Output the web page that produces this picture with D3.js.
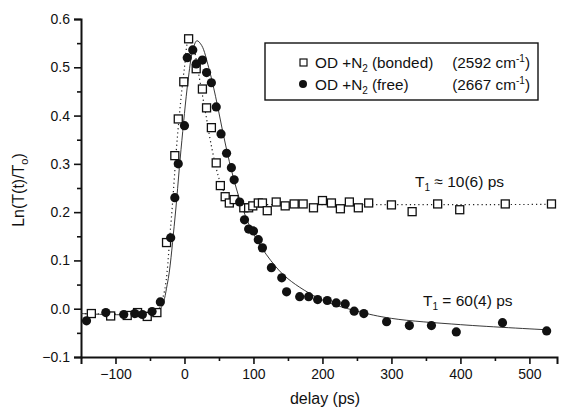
<!DOCTYPE html>
<html>
<head>
<meta charset="utf-8">
<script src="https://cdn.jsdelivr.net/npm/d3@7"></script>
<style>
  body { margin: 0; background: #fff; }
  text { font-family: "Liberation Sans", Arial, sans-serif; fill: #111; }
</style>
</head>
<body>
<svg id="chart" width="564" height="413"></svg>
<script>
// bonded OD (open squares)
const bondedDelay = [-135, -107, -83, -68, -54, -40, -26, -14, -9, -1, 6, 17, 26, 32, 39, 46, 52, 59, 65, 72,
  86, 93, 99, 107, 113, 120, 133, 146, 159, 172, 187, 200, 213, 226, 239, 252, 267, 300, 330, 367, 399, 465, 532];
const bondedVal = [-0.010, -0.015, -0.014, -0.008, -0.016, -0.008, 0.137, 0.317, 0.393, 0.470, 0.559, 0.497, 0.455, 0.416, 0.375, 0.302, 0.255, 0.232, 0.219, 0.226,
  0.209, 0.209, 0.213, 0.219, 0.219, 0.203, 0.221, 0.213, 0.217, 0.217, 0.209, 0.224, 0.219, 0.207, 0.221, 0.209, 0.219, 0.215, 0.201, 0.217, 0.205, 0.217, 0.217];

// free OD (filled circles)
const freeDelay = [-142, -114, -88, -72, -61, -47, -35, -20, -14, -9, 0, 4, 12, 17, 26, 32, 39, 46, 53, 61, 68, 72, 80, 87, 93,
  100, 107, 113, 126, 141, 148, 167, 180, 193, 207, 220, 233, 246, 260, 293, 326, 358, 394, 461, 525];
const freeVal = [-0.025, -0.008, -0.012, -0.010, -0.012, -0.006, 0.014, 0.147, 0.230, 0.300, 0.379, 0.520, 0.536, 0.507, 0.515, 0.489, 0.468, 0.418, 0.362, 0.322, 0.292, 0.267, 0.221, 0.184, 0.165,
  0.161, 0.143, 0.126, 0.085, 0.064, 0.035, 0.025, 0.025, 0.019, 0.017, 0.012, 0.010, -0.005, -0.010, -0.027, -0.035, -0.035, -0.048, -0.029, -0.046];

// fit curves
const bondedFitDelay = [-150, -60, -40, -30, -20, -10, 0, 6, 12, 20, 30, 40, 50, 60, 70, 80, 100, 540];
const bondedFitVal = [-0.010, -0.010, -0.005, 0.03, 0.17, 0.36, 0.50, 0.555, 0.545, 0.49, 0.41, 0.33, 0.27, 0.235, 0.222, 0.217, 0.216, 0.216];
const freeFitDelay = [-150, -50, -35, -25, -15, -5, 5, 12, 18, 25, 35, 45, 55, 65, 75, 85, 100, 125, 150, 200, 250, 300, 400, 530];
const freeFitVal = [-0.010, -0.010, 0.000, 0.05, 0.17, 0.33, 0.47, 0.535, 0.555, 0.545, 0.50, 0.44, 0.37, 0.305, 0.25, 0.205, 0.155, 0.10, 0.062, 0.018, -0.005, -0.020, -0.033, -0.044];

const xTicks = [-100, 0, 100, 200, 300, 400, 500];
const yTicks = [-0.1, 0.0, 0.1, 0.2, 0.3, 0.4, 0.5, 0.6];

const svg = d3.select("#chart");
const x = d3.scaleLinear().domain([-150, 540]).range([81, 557]);
const y = d3.scaleLinear().domain([-0.1, 0.6]).range([357, 19]);

// axes
const xAxis = svg.append("g").attr("transform", `translate(0, ${y(-0.1)})`)
  .call(d3.axisBottom(x).tickValues(xTicks).tickSize(7).tickPadding(5).tickFormat(d3.format("d")));
const xMinor = svg.append("g").attr("transform", `translate(0, ${y(-0.1)})`)
  .call(d3.axisBottom(x).tickValues([-50, 50, 150, 250, 350, 450]).tickSize(4).tickFormat(""));
const yAxis = svg.append("g").attr("transform", `translate(${x(-150)}, 0)`)
  .call(d3.axisLeft(y).tickValues(yTicks).tickSize(7).tickPadding(4).tickFormat(d3.format(".1f")));
const yMinor = svg.append("g").attr("transform", `translate(${x(-150)}, 0)`)
  .call(d3.axisLeft(y).tickValues([-0.05, 0.05, 0.15, 0.25, 0.35, 0.45, 0.55]).tickSize(4).tickFormat(""));

[xAxis, xMinor, yAxis, yMinor].forEach(g => {
  g.selectAll(".domain").attr("stroke", "#111").attr("stroke-width", 2);
  g.selectAll(".tick line").attr("stroke", "#111").attr("stroke-width", 1.6);
  g.selectAll(".tick text").attr("font-size", 14).attr("fill", "#111")
    .attr("font-family", "Liberation Sans, Arial, sans-serif");
});
xMinor.select(".domain").remove();
yMinor.select(".domain").remove();

// fits
const mk = d3.line().x(d => x(d[0])).y(d => y(d[1])).curve(d3.curveCatmullRom.alpha(0.5));

svg.append("path")
  .datum(d3.zip(bondedFitDelay, bondedFitVal))
  .attr("d", mk)
  .attr("fill", "none").attr("stroke", "#222").attr("stroke-width", 1.2)
  .attr("stroke-dasharray", "1.2 3");

svg.append("path")
  .datum(d3.zip(freeFitDelay, freeFitVal))
  .attr("d", mk)
  .attr("fill", "none").attr("stroke", "#222").attr("stroke-width", 0.9);

// markers
svg.append("g").selectAll("rect")
  .data(d3.zip(bondedDelay, bondedVal))
  .join("rect")
  .attr("x", d => x(d[0]) - 4)
  .attr("y", d => y(d[1]) - 4)
  .attr("width", 8).attr("height", 8)
  .attr("fill", "#fff").attr("stroke", "#111").attr("stroke-width", 1.3);

svg.append("g").selectAll("circle")
  .data(d3.zip(freeDelay, freeVal))
  .join("circle")
  .attr("cx", d => x(d[0]))
  .attr("cy", d => y(d[1]))
  .attr("r", 4.6)
  .attr("fill", "#111");

// legend
const lg = svg.append("g");
lg.append("rect").attr("x", 265).attr("y", 43).attr("width", 273).attr("height", 57)
  .attr("fill", "#fff").attr("stroke", "#111").attr("stroke-width", 1.4);
lg.append("rect").attr("x", 300).attr("y", 59).attr("width", 7).attr("height", 7)
  .attr("fill", "#fff").attr("stroke", "#111").attr("stroke-width", 1.2);
lg.append("circle").attr("cx", 303).attr("cy", 84).attr("r", 4).attr("fill", "#111");

function legendText(yPos, label, wav) {
  const t = lg.append("text").attr("x", 315).attr("y", yPos).attr("font-size", 15.3);
  t.append("tspan").text("OD +N");
  t.append("tspan").attr("font-size", 10).attr("dy", 4).text("2");
  t.append("tspan").attr("dy", -4).text(" " + label);
  const w = lg.append("text").attr("x", 530).attr("y", yPos).attr("font-size", 15.3)
    .attr("text-anchor", "end");
  w.append("tspan").text("(" + wav + " cm");
  w.append("tspan").attr("font-size", 10).attr("dy", -6).text("-1");
  w.append("tspan").attr("dy", 6).text(")");
}
legendText(68, "(bonded)", "2592");
legendText(90, "(free)", "2667");

// annotations
function t1Label(xPos, yPos, txt) {
  const t = svg.append("text").attr("x", xPos).attr("y", yPos).attr("font-size", 15.5);
  t.append("tspan").text("T");
  t.append("tspan").attr("font-size", 10).attr("dy", 4).text("1");
  t.append("tspan").attr("dy", -4).text(" " + txt);
}
t1Label(415, 187, "\u2248 10(6) ps");
t1Label(423, 306, "= 60(4) ps");

// axis titles
svg.append("text").attr("x", 325).attr("y", 404).attr("text-anchor", "middle")
  .attr("font-size", 16).text("delay (ps)");
const yt = svg.append("text").attr("transform", "translate(24, 190) rotate(-90)")
  .attr("text-anchor", "middle").attr("font-size", 16);
yt.append("tspan").text("Ln(T(t)/T");
yt.append("tspan").attr("font-size", 11).attr("dy", 4).text("o");
yt.append("tspan").attr("dy", -4).text(")");
</script>
</body>
</html>
